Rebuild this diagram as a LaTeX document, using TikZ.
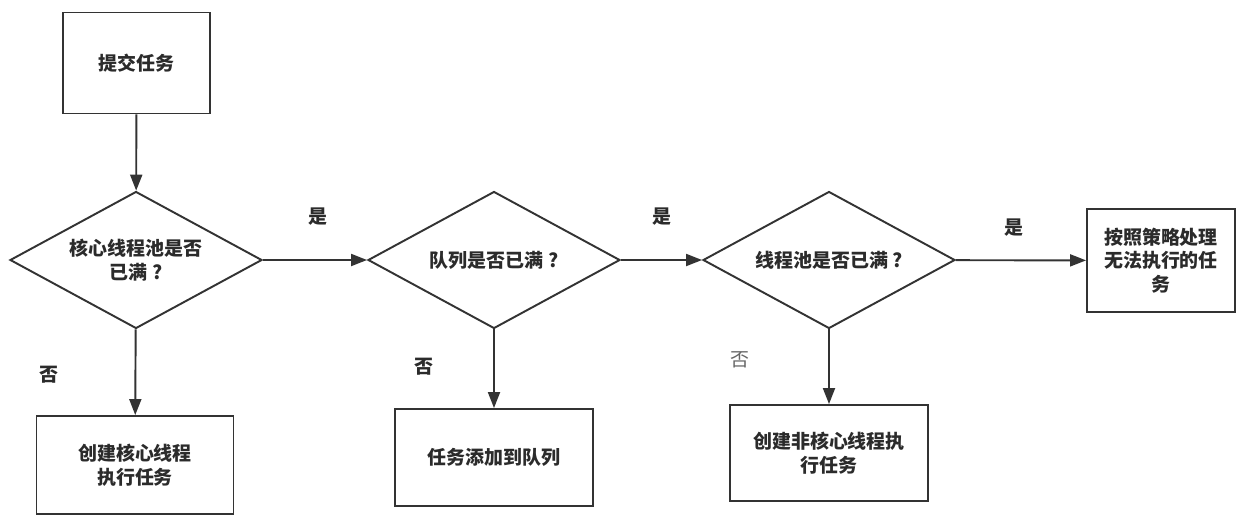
\documentclass[tikz,border=0pt]{standalone}
\usepackage{fontspec}
\setmainfont{Noto Sans CJK SC}
\usetikzlibrary{shapes.geometric,arrows.meta}

\definecolor{linegray}{HTML}{333333}
\definecolor{textgray}{HTML}{2B2B2B}

\tikzset{
  box/.style={draw=linegray,line width=1.1pt,rectangle,inner sep=0pt,align=center,
    font=\fontsize{10.8}{13.5}\selectfont\bfseries,text=textgray},
  choice/.style={draw=linegray,line width=1.1pt,diamond,inner sep=0pt,aspect=1.85,
    minimum width=5.04cm,minimum height=2.74cm,align=center,
    font=\fontsize{10.8}{13.5}\selectfont\bfseries,text=textgray},
  flow/.style={draw=linegray,line width=1.1pt,-{Triangle[length=0.32cm,width=0.24cm]}},
  answer/.style={font=\fontsize{10.8}{13.5}\selectfont\bfseries,text=textgray},
}

\begin{document}
\begin{tikzpicture}[x=0.02cm,y=-0.02cm]
\useasboundingbox (0,0) rectangle (1248,531);

% main row
\node[box,minimum width=2.94cm,minimum height=2.02cm] (submit) at (136.5,63) {提交任务};
\node[choice] (corefull) at (136,260) {核心线程池是否\\已满 ?};
\node[choice] (queuefull) at (494,260) {队列是否已满 ?};
\node[choice] (poolfull) at (829,260) {线程池是否已满 ?};
\node[box,minimum width=2.96cm,minimum height=2.06cm] (reject) at (1161,260.5) {按照策略处理\\无法执行的任\\务};

% bottom row
\node[box,minimum width=3.94cm,minimum height=1.96cm] (newcore) at (135,465) {创建核心线程\\执行任务};
\node[box,minimum width=3.96cm,minimum height=1.94cm] (enqueue) at (494,457.5) {任务添加到队列};
\node[box,minimum width=3.96cm,minimum height=1.92cm] (newextra) at (829,453) {创建非核心线程执\\行任务};

% connectors
\draw[flow] (submit) -- (corefull);
\draw[flow] (corefull) -- (queuefull);
\draw[flow] (queuefull) -- (poolfull);
\draw[flow] (poolfull) -- (reject);
\draw[flow] (corefull) -- (newcore);
\draw[flow] (queuefull) -- (enqueue);
\draw[flow] (poolfull) -- (newextra);

% labels
\node[answer] (yes1) at (318,217) {是};
\node[answer] (yes2) at (662,217) {是};
\node[answer] (yes3) at (1014,228) {是};
\node[answer] (no1) at (49,375) {否};
\node[answer] (no2) at (424,367) {否};
\node[answer,font=\fontsize{10.8}{13.5}\selectfont,text=black!60] (no3) at (740,360) {否};
\end{tikzpicture}
\end{document}
